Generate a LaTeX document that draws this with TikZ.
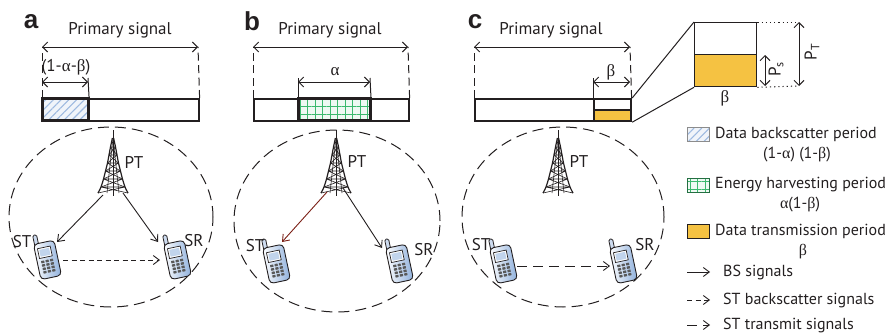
\documentclass[tikz,border=0pt]{standalone}
\usepackage{fontspec}
\setmainfont{PT Sans}
\newfontfamily\grk{Liberation Serif}
\newfontfamily\lbl{Liberation Sans}
\usetikzlibrary{arrows.meta,patterns.meta,calc,shapes.geometric}

\newcommand\galpha{{\grk α}}
\newcommand\gbeta{{\grk β}}

\definecolor{ink}{HTML}{231F20}
\definecolor{hatchblue}{HTML}{9DB9E0}
\definecolor{gridgreen}{HTML}{3CB96E}
\definecolor{sunyellow}{HTML}{F5C242}
\definecolor{linkred}{HTML}{7A1E14}
\definecolor{phoneblue}{HTML}{8FB0DC}

\tikzset{
  txt/.style={font=\fontsize{17}{20}\selectfont, text=ink, inner sep=0pt},
  keytxt/.style={font=\fontsize{16}{19}\selectfont, text=ink, inner sep=0pt},
  letter/.style={font=\lbl\bfseries\fontsize{26}{28}\selectfont, text=ink, inner sep=0pt},
  barbox/.style={draw=ink, line width=1.6pt, inner sep=0pt, fill=white, anchor=north west},
  segbox/.style={draw=ink, line width=2.2pt, inner sep=0pt, anchor=north west},
  hatchfill/.style={preaction={fill=hatchblue!15}, pattern={Lines[angle=45,distance=5.5pt,line width=1.1pt]}, pattern color=hatchblue},
  gridfill/.style={preaction={fill=gridgreen!8}, pattern={Hatch[distance=7.5pt,line width=1pt]}, pattern color=gridgreen},
  dashv/.style={draw=ink, line width=1pt, dash pattern=on 8pt off 4.5pt},
  dim/.style={draw=ink, line width=1pt, {Straight Barb[length=5pt,width=10pt]}-{Straight Barb[length=5pt,width=10pt]}},
  area/.style={ellipse, draw=ink, line width=1pt, dash pattern=on 11pt off 6pt, inner sep=0pt},
  link/.style={draw=ink, line width=0.9pt, -{Straight Barb[length=6pt,width=9pt]}},
  bslink/.style={link, dash pattern=on 5pt off 3.5pt},
  txlink/.style={link, dash pattern=on 10pt off 6pt},
  towerbox/.style={minimum width=30pt, minimum height=63pt, inner sep=0pt, anchor=south},
  phonebox/.style={minimum width=22pt, minimum height=36pt, inner sep=0pt},
  swatch/.style={minimum width=22pt, minimum height=14pt, inner sep=0pt, anchor=west},
  pics/tower/.style={code={
    \draw[ink, line width=1pt] (0,-63) -- (0,3);
    \draw[ink, line width=1.2pt] plot[smooth] coordinates {(-0.6,-55) (-2.5,-46) (-4,-38) (-5.5,-30) (-7.5,-22) (-9.5,-14) (-12,-6) (-15,0)};
    \draw[ink, line width=1.2pt] plot[smooth] coordinates {(0.6,-55) (2.5,-46) (4,-38) (5.5,-30) (7.5,-22) (9.5,-14) (12,-6) (15,0)};
    \draw[ink, line width=0.6pt] (0,-55) -- (-6,0) (0,-55) -- (6,0);
    \foreach \ha/\wa/\hb/\wb in {0/15/6/12, 6/12/14/9.5, 14/9.5/22/7.5, 22/7.5/30/5.5, 30/5.5/38/4, 38/4/46/2.5}
      \draw[ink, line width=0.6pt] (-\wa,-\ha) -- (\wb,-\hb) (\wa,-\ha) -- (-\wb,-\hb) (-\wb,-\hb) -- (\wb,-\hb);
  }},
  pics/phone/.style={code={
    \begin{scope}[rotate=12]
      \draw[ink, line width=0.8pt, fill=phoneblue!45, rounded corners=1.5pt] (-9,-15) rectangle (-5,-27);
      \draw[ink, line width=0.9pt, rounded corners=4pt, left color=white, right color=phoneblue] (-10,-18) rectangle (11,18);
      \draw[ink, line width=0.7pt, fill=white] (-7,-13) rectangle (6,-3);
      \fill[phoneblue!55] (-5.5,-11.5) rectangle (4.5,-4.5);
      \foreach \c in {-4.5,0,4.5}
        \foreach \r in {1,4.5,8,11.5}
          \fill[black!65, rounded corners=0.4pt] (\c-1.6,\r-1.2) rectangle (\c+1.6,\r+1.2);
    \end{scope}
  }},
}

\begin{document}
\begin{tikzpicture}[x=1pt,y=-1pt]
\useasboundingbox (0,0) rectangle (893,332);

% ---------- panel a: backscatter ----------
\node[letter] (letA) at (31,22) {a};
\node[txt] (sigA) at (120,30) {Primary signal};
\node[barbox, minimum width=156pt, minimum height=22pt] (barA) at (42,98) {};
\node[segbox, hatchfill, minimum width=46pt, minimum height=22pt] (segA) at (42,98) {};
\coordinate (topAL) at (42,47);
\coordinate (topAR) at (198,47);
\draw[dashv] (barA.north west) -- (topAL);
\draw[dashv] (barA.north east) -- (topAR);
\draw[dim] (topAL) -- (topAR);
\coordinate (subAL) at (42,82);
\coordinate (subAR) at (88,82);
\draw[ink, line width=1pt] (segA.north east) -- ($(subAR)+(0,-4)$);
\draw[dim] (subAL) -- (subAR);
\node[txt] (fracA) at (66,67) {(1-\galpha-\gbeta)};

\node[area, minimum width=204pt, minimum height=180pt] (cellA) at (111,217) {};
\node[towerbox] (ptA) at (113,193) {};
\pic at (ptA.south) {tower};
\node[txt] (ptlA) at (134,162) {PT};
\node[phonebox] (stA) at (47,260) {};
\pic at (stA) {phone};
\node[phonebox] (srA) at (177,260) {};
\pic at (srA) {phone};
\node[txt] (stlA) at (22,242) {ST};
\node[txt] (srlA) at (194,241) {SR};
\draw[link] ($(ptA.south)+(-10,2)$) -- ($(stA)+(10,-18)$);
\draw[link] ($(ptA.south)+(10,0)$) -- ($(srA)+(-19,-18)$);
\draw[bslink] ($(stA)+(16,0)$) -- ($(srA)+(-17,0)$);

% ---------- panel b: energy harvesting ----------
\node[letter] (letB) at (252,21) {b};
\node[txt] (sigB) at (330,30) {Primary signal};
\node[barbox, minimum width=155pt, minimum height=22pt] (barB) at (253,98) {};
\node[segbox, gridfill, minimum width=72pt, minimum height=22pt] (segB) at (298,98) {};
\coordinate (topBL) at (253,47);
\coordinate (topBR) at (408,47);
\draw[dashv] (barB.north west) -- (topBL);
\draw[dashv] (barB.north east) -- (topBR);
\draw[dim] (topBL) -- (topBR);
\coordinate (subBL) at (298,82);
\coordinate (subBR) at (370,82);
\draw[ink, line width=1pt] (segB.north west) -- ($(subBL)+(0,-4)$);
\draw[ink, line width=1pt] (segB.north east) -- ($(subBR)+(0,-4)$);
\draw[dim] (subBL) -- (subBR);
\node[txt] (fracB) at (335,72) {\galpha};

\node[area, minimum width=206pt, minimum height=182pt] (cellB) at (337,221) {};
\node[towerbox] (ptB) at (336,193) {};
\pic at (ptB.south) {tower};
\node[txt] (ptlB) at (357,161) {PT};
\node[phonebox] (stB) at (276,264) {};
\pic at (stB) {phone};
\node[phonebox] (srB) at (399,264) {};
\pic at (srB) {phone};
\node[txt] (stlB) at (255,246) {ST};
\node[txt] (srlB) at (424,250) {SR};
\draw[link, draw=linkred] ($(ptB.south)+(-9,-1)$) -- ($(stB)+(6,-22)$);
\draw[link] ($(ptB.south)+(7,-5)$) -- ($(srB)+(-17,-16)$);

% ---------- panel c: data transmission ----------
\node[letter] (letC) at (475,22) {c};
\node[txt] (sigC) at (551,30) {Primary signal};
\node[barbox, minimum width=156pt, minimum height=22pt] (barC) at (474,98) {};
\fill[sunyellow] (593,110) rectangle (630,120);
\node[segbox, minimum width=37pt, minimum height=22pt] (segC) at (593,98) {};
\draw[ink, line width=1.4pt] (segC.west) -- (segC.east);
\coordinate (topCL) at (474,47);
\coordinate (topCR) at (630,47);
\draw[dashv] (barC.north west) -- (topCL);
\draw[dashv] (barC.north east) -- (topCR);
\draw[dim] (topCL) -- (topCR);
\coordinate (subCL) at (593,82);
\coordinate (subCR) at (630,82);
\draw[ink, line width=1pt] (segC.north west) -- ($(subCL)+(0,-4)$);
\draw[dim] (subCL) -- (subCR);
\node[txt] (fracC) at (611,72) {\gbeta};

% enlarged view of the transmission slot
\node[draw=ink, line width=1.3pt, fill=white, minimum width=62pt, minimum height=32pt, inner sep=0pt, anchor=north west] (zoomT) at (694,22) {};
\node[draw=ink, line width=1.3pt, fill=sunyellow, minimum width=62pt, minimum height=32pt, inner sep=0pt, anchor=north west] (zoomB) at (694,54) {};
\draw[ink, line width=1pt] (segC.north east) -- (zoomT.north west);
\draw[ink, line width=1pt] (segC.south east) -- (zoomB.south west);
\node[txt] (betaZ) at (725,98) {\gbeta};
\coordinate (dotT) at (799,22);
\coordinate (dotB) at (799,86);
\draw[ink, line width=1pt, dash pattern=on 1.2pt off 3pt] (zoomT.north east) -- (dotT);
\draw[ink, line width=1pt, dash pattern=on 1.2pt off 3pt] (zoomB.south east) -- (dotB);
\coordinate (psT) at (765,55);
\coordinate (psB) at (765,86);
\draw[dim] (psT) -- (psB);
\draw[dim] (dotT) -- (dotB);
\node[txt, rotate=90] (psL) at (776,69) {P\textsubscript{s}};
\node[txt, rotate=90] (ptL) at (812,52) {P\textsubscript{T}};

\node[area, minimum width=202pt, minimum height=180pt] (cellC) at (563,217) {};
\node[towerbox] (ptC) at (558,193) {};
\pic at (ptC.south) {tower};
\node[txt] (ptlC) at (579,161) {PT};
\node[phonebox] (stC) at (503,264) {};
\pic at (stC) {phone};
\node[phonebox] (srC) at (623,264) {};
\pic at (srC) {phone};
\node[txt] (stlC) at (481,245) {ST};
\node[txt] (srlC) at (645,245) {SR};
\draw[txlink] ($(stC)+(14,2)$) -- ($(srC)+(-13,2)$);

% ---------- legend ----------
\node[swatch, draw=black!45, line width=1pt, hatchfill] (keyHatch) at (687,134) {};
\node[keytxt, anchor=west] (keyHatchT) at (715,134) {Data backscatter period};
\node[keytxt] (keyHatchF) at (797,155) {(1-\galpha) (1-\gbeta)};
\node[swatch, draw=gridgreen!60!black, line width=1pt, gridfill] (keyGrid) at (687,185) {};
\node[keytxt, anchor=west] (keyGridT) at (715,185) {Energy harvesting period};
\node[keytxt] (keyGridF) at (800,205) {\galpha(1-\gbeta)};
\node[swatch, draw=ink, line width=1pt, fill=sunyellow] (keySun) at (687,231) {};
\node[keytxt, anchor=west] (keySunT) at (715,231) {Data transmission period};
\node[keytxt] (keySunF) at (803,252) {\gbeta};

\coordinate (bsA) at (687,272);
\coordinate (bsB) at (710,272);
\draw[link] (bsA) -- (bsB);
\node[keytxt, anchor=west] (bsT) at (723,272) {BS signals};
\coordinate (bkA) at (687,300);
\coordinate (bkB) at (710,300);
\draw[bslink] (bkA) -- (bkB);
\node[keytxt, anchor=west] (bkT) at (723,300) {ST backscatter signals};
\coordinate (txA) at (687,325);
\coordinate (txB) at (710,325);
\draw[txlink] (txA) -- (txB);
\node[keytxt, anchor=west] (txT) at (723,325) {ST transmit signals};
\end{tikzpicture}
\end{document}
